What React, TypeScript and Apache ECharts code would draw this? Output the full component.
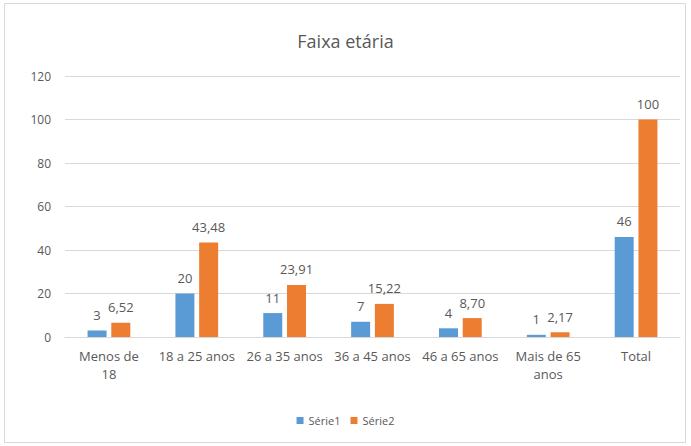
import React, { useEffect, useRef } from "react";
import * as echarts from "echarts";

const categories = ["Menos de 18", "18 a 25 anos", "26 a 35 anos", "36 a 45 anos", "46 a 65 anos", "Mais de 65 anos", "Total"];
const categoryLabels: Record<string, string> = {
  "Menos de 18": "Menos de\n18",
  "Mais de 65 anos": "Mais de 65\nanos",
};
const serie1 = [3, 20, 11, 7, 4, 1, 46];
const serie2 = [6.52, 43.48, 23.91, 15.22, 8.7, 2.17, 100];
const seriesNames = ["Série1", "Série2"];
const yTicks = { min: 0, max: 120, interval: 20 };

const fmt = (v: number) => (Number.isInteger(v) ? String(v) : v.toFixed(2).replace(".", ","));

export default function App() {
  const ref = useRef<HTMLDivElement>(null);
  useEffect(() => {
    document.body.style.margin = "0";
    const chart = echarts.init(ref.current!, undefined, { renderer: "svg" });
    const font = "'Open Sans', 'Liberation Sans', sans-serif";
    const labelStyle = {
      show: true,
      position: "top" as const,
      distance: 9,
      color: "#595959",
      fontSize: 13,
      fontFamily: font,
      formatter: (p: any) => fmt(p.value),
    };
    chart.setOption({
      animation: false,
      backgroundColor: "#ffffff",
      textStyle: { fontFamily: font },
      title: {
        text: "Faixa etária",
        left: "center",
        top: 27,
        textStyle: { fontSize: 18, fontWeight: "normal", color: "#595959", fontFamily: font },
      },
      graphic: [
        {
          type: "rect",
          shape: { x: 4.5, y: 3.5, width: 681, height: 439 },
          style: { fill: "none", stroke: "#d9d9d9", lineWidth: 1 },
          silent: true,
        },
      ],
      legend: {
        bottom: 15,
        left: "center",
        itemWidth: 7,
        itemHeight: 7,
        itemGap: 10,
        icon: "rect",
        textStyle: { color: "#595959", fontSize: 11, fontFamily: font },
        data: seriesNames,
      },
      grid: { left: 65, right: 11, top: 76, bottom: 109 },
      xAxis: {
        type: "category",
        data: categories,
        axisTick: { show: false },
        axisLine: { lineStyle: { color: "#d9d9d9" } },
        axisLabel: {
          interval: 0,
          color: "#595959",
          fontSize: 13,
          fontFamily: font,
          margin: 10,
          lineHeight: 18,
          formatter: (v: string) => categoryLabels[v] ?? v,
        },
      },
      yAxis: {
        type: "value",
        min: yTicks.min,
        max: yTicks.max,
        interval: yTicks.interval,
        axisLine: { show: false },
        axisTick: { show: false },
        splitLine: { lineStyle: { color: "#d9d9d9" } },
        axisLabel: { color: "#595959", fontSize: 12, fontFamily: font, margin: 14 },
      },
      series: [
        {
          name: seriesNames[0],
          type: "bar",
          data: serie1,
          barWidth: 19,
          barGap: "25%",
          itemStyle: { color: "#5B9BD5" },
          label: labelStyle,
        },
        {
          name: seriesNames[1],
          type: "bar",
          data: serie2,
          barWidth: 19,
          barGap: "25%",
          itemStyle: { color: "#ED7D31" },
          label: labelStyle,
        },
      ],
    });
    return () => chart.dispose();
  }, []);
  return <div ref={ref} style={{ width: 691, height: 446 }} />;
}
